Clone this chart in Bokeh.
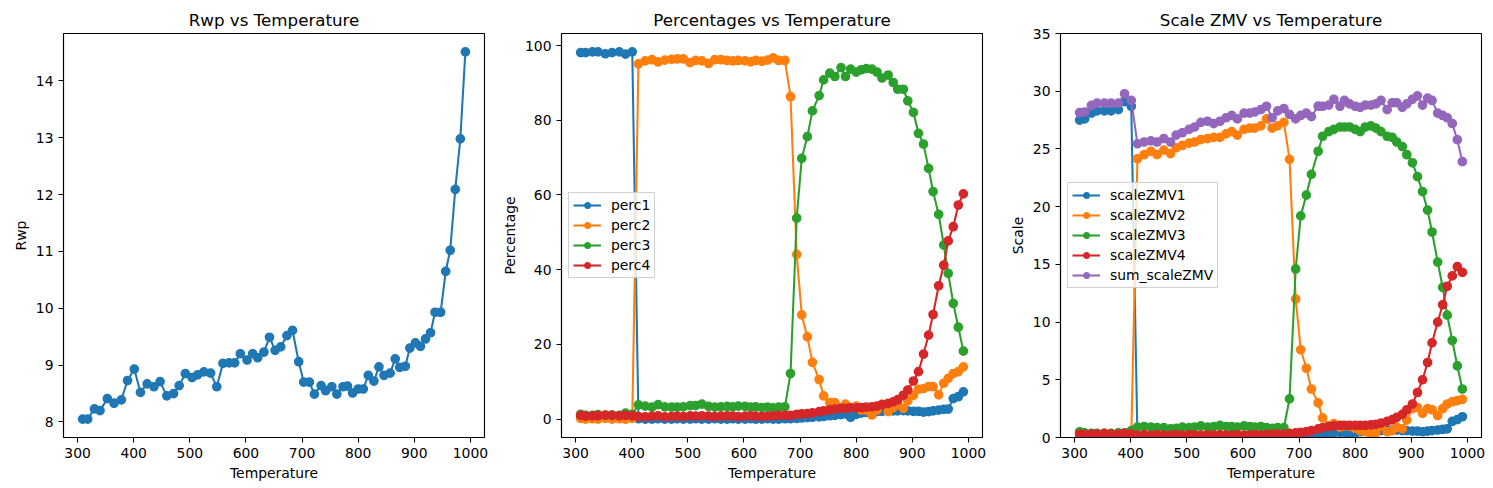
from bokeh.plotting import figure
from bokeh.layouts import row
from bokeh.models import Range1d, FixedTicker
from bokeh.embed import file_html
from bokeh.resources import INLINE

# ---------------- data ----------------
temperature = [309, 318, 330, 340, 353, 365, 378, 389, 401, 412, 424, 436, 447, 459, 471, 481, 492, 504, 514,
               525, 537, 548, 559, 570, 580, 590, 602, 612, 621, 632, 642, 652, 662, 673, 683, 694, 703, 713, 722,
               734, 742, 753, 762, 773, 781, 790, 800, 809, 818, 828, 837, 846, 857, 866, 874, 884, 892, 902, 911,
               920, 929, 937, 947, 956, 964, 973, 982, 991]

rwp = [8.05, 8.05, 8.23, 8.20, 8.41, 8.33, 8.39, 8.73, 8.93, 8.52, 8.67, 8.62, 8.71, 8.46, 8.50, 8.64, 8.85,
       8.78, 8.83, 8.88, 8.86, 8.62, 9.03, 9.04, 9.04, 9.20, 9.09, 9.20, 9.13, 9.23, 9.49, 9.26, 9.32, 9.52,
       9.61, 9.06, 8.70, 8.70, 8.49, 8.64, 8.55, 8.62, 8.49, 8.62, 8.63, 8.51, 8.58, 8.58, 8.82, 8.72, 8.97,
       8.82, 8.86, 9.11, 8.96, 8.98, 9.30, 9.39, 9.33, 9.46, 9.57, 9.93, 9.93, 10.65, 11.02, 12.09, 12.98, 14.51]

perc1 = [98.1, 98.1, 98.3, 98.3, 97.8, 98.1, 98.3, 97.7, 98.3,
         0.1, 0.0, 0.0, 0.1, 0.0, 0.0, 0.1, 0.0, 0.0, 0.1, 0.0, 0.0, 0.1, 0.0, 0.0, 0.1, 0.0, 0.0, 0.1, 0.0,
         0.0, 0.1, 0.0, 0.0, 0.1,
         0.1, 0.2, 0.3, 0.4, 0.5, 0.6, 0.7, 0.9, 1.0, 1.2, 1.4, 0.5, 1.3, 1.6, 1.8, 1.9, 2.0, 2.1, 2.2, 2.2,
         2.2, 2.3, 2.2, 2.1, 2.1, 1.9, 2.0, 2.2, 2.4, 2.6, 2.7, 5.5, 6.0, 7.3]
perc2 = [0.2, 0.0, 0.1, 0.0, 0.2, 0.0, 0.1, 0.0, 0.2,
         95.1, 95.9, 96.2, 95.6, 96.1, 96.3, 96.4, 96.4, 95.4, 96.0, 95.9, 95.2, 96.2, 96.2, 96.0, 95.9, 96.0,
         95.9, 95.6, 96.0, 95.8, 96.1, 96.7, 96.0, 96.0,
         86.3, 44.1, 27.9, 22.0, 15.2, 10.6, 6.2, 4.4, 4.4, 3.1, 4.0, 3.1, 3.5, 2.4, 2.4, 1.1, 2.4, 4.0, 2.0,
         3.1, 4.0, 2.9, 4.9, 6.4, 8.0, 8.2, 8.7, 8.7, 6.5, 9.6, 10.9, 12.2, 12.7, 14.0]
perc3 = [1.3, 1.0, 1.0, 1.2, 1.0, 1.1, 1.0, 1.6, 1.3,
         3.8, 3.5, 3.2, 3.9, 3.3, 3.2, 3.2, 3.3, 3.6, 3.6, 4.0, 3.4, 3.2, 3.3, 3.4, 3.3, 3.5, 3.4, 3.2, 3.3,
         3.1, 3.2, 3.0, 3.2, 3.3,
         12.2, 53.8, 69.8, 75.6, 82.5, 86.6, 90.8, 92.6, 91.7, 94.1, 91.7, 93.7, 92.9, 93.5, 93.8, 93.7, 92.9,
         91.3, 92.1, 90.1, 88.3, 88.3, 85.2, 82.1, 76.5, 73.6, 67.1, 60.9, 54.8, 46.6, 39.0, 31.0, 24.6, 18.2]
perc4 = [1.0, 0.8, 0.9, 0.9, 1.1, 1.0, 0.9, 1.0, 0.9,
         0.7, 0.6, 0.8, 0.9, 0.6, 0.7, 0.8, 0.7, 0.9, 0.8, 0.9, 0.8, 0.7, 0.8, 0.9, 0.8, 0.7, 0.8, 0.9, 0.8,
         0.7, 0.8, 0.9, 1.0, 1.0,
         1.0, 1.3, 1.4, 1.5, 1.7, 2.0, 2.2, 2.5, 2.7, 2.9, 2.9, 3.0, 3.0, 3.1, 3.2, 3.3, 3.5, 3.8, 4.2, 4.6,
         5.2, 6.4, 7.8, 10.2, 12.7, 17.4, 22.5, 28.0, 35.7, 41.2, 47.7, 51.5, 57.3, 60.3]

scale1 = [27.5, 27.6, 28.1, 28.3, 28.3, 28.3, 28.4, 29.1, 28.7,
          0.0, 0.0, 0.0, 0.0, 0.0, 0.0, 0.0, 0.0, 0.0, 0.0, 0.0, 0.0, 0.0, 0.0, 0.0, 0.0, 0.0, 0.0, 0.0, 0.0,
          0.0, 0.0, 0.0, 0.0, 0.0, 0.0,
          0.05, 0.1, 0.15, 0.2, 0.25, 0.3, 0.35, 0.4, 0.45, 0.45, 0.2, 0.4, 0.5, 0.55, 0.55, 0.6, 0.6, 0.6,
          0.65, 0.65, 0.6, 0.6, 0.55, 0.55, 0.5, 0.55, 0.6, 0.65, 0.7, 0.75, 1.4, 1.55, 1.8]
scale2 = [0.1, 0.0, 0.1, 0.0, 0.1, 0.0, 0.1, 0.0, 0.1,
          24.15, 24.5, 24.8, 24.5, 24.9, 24.6, 25.1, 25.3, 25.5, 25.6, 25.8, 25.9, 26.0, 26.0, 26.3, 26.5, 26.2,
          26.7, 26.8, 26.8, 27.0, 27.6, 26.8, 27.0, 27.3,
          24.1, 12.0, 7.6, 6.0, 4.2, 3.0, 1.7, 1.0, 1.2, 0.9, 1.0, 1.0, 0.8, 0.6, 0.5, 0.3, 0.4, 1.0, 0.5, 0.6,
          0.9, 0.75, 1.5, 2.5, 2.6, 2.1, 2.5, 2.4, 1.9, 2.5, 2.9, 3.1, 3.2, 3.3]
scale3 = [0.5, 0.4, 0.35, 0.35, 0.35, 0.35, 0.4, 0.4, 0.6,
          0.9, 0.95, 0.9, 0.85, 0.85, 0.75, 0.8, 0.9, 0.85, 0.9, 1.0, 0.9, 0.95, 1.05, 0.95, 0.95, 0.9, 1.0,
          0.95, 0.9, 0.95, 0.85, 0.8, 0.85, 0.85,
          3.35, 14.6, 19.2, 21.0, 22.8, 24.8, 26.1, 26.5, 26.7, 26.9, 26.9, 26.9, 26.7, 26.5, 26.9, 27.0, 26.8,
          26.5, 26.1, 26.0, 25.6, 25.2, 24.5, 23.8, 22.6, 21.3, 19.7, 17.8, 15.2, 13.0, 10.6, 8.4, 6.2, 4.2]
scale4 = [0.3, 0.25, 0.3, 0.3, 0.35, 0.3, 0.3, 0.35, 0.3,
          0.2, 0.25, 0.2, 0.25, 0.2, 0.2, 0.25, 0.2, 0.25, 0.2, 0.2, 0.25, 0.2, 0.25, 0.2, 0.2, 0.25, 0.2, 0.2,
          0.25, 0.2, 0.25, 0.3, 0.3, 0.3,
          0.35, 0.4, 0.45, 0.5, 0.6, 0.75, 0.85, 0.95, 1.0, 1.05, 1.05, 1.05, 1.05, 1.05, 1.05, 1.1, 1.15,
          1.25, 1.4, 1.55, 1.75, 2.0, 2.4, 2.9, 3.9, 5.0, 6.5, 8.2, 10.0, 11.5, 13.1, 14.0, 14.8, 14.3]
sum_scale = [28.14, 28.2, 28.77, 28.97, 28.97, 28.97, 28.97, 29.78, 29.2,
             25.45, 25.6, 25.7, 25.6, 25.9, 25.6, 26.2, 26.4, 26.7, 26.9, 27.3, 27.4, 27.2, 27.4, 27.7, 27.9,
             27.6, 28.1, 28.1, 28.2, 28.4, 28.7, 27.7, 28.3, 28.5, 28.0, 27.6, 27.9, 28.1, 27.8,
             28.7, 28.7, 28.8, 29.3, 28.7, 29.2, 28.9, 28.7, 28.6, 28.8, 28.8, 28.9, 29.2, 28.4, 29.0, 29.0,
             28.6, 28.9, 29.3, 29.6, 28.8, 29.4, 29.2, 28.1, 27.9, 27.7, 27.2, 25.8, 23.9]

x_ticks = [300, 400, 500, 600, 700, 800, 900, 1000]
rwp_ticks = [8, 9, 10, 11, 12, 13, 14]
perc_ticks = [0, 20, 40, 60, 80, 100]
scale_ticks = [0, 5, 10, 15, 20, 25, 30, 35]

COLORS = ["#1f77b4", "#ff7f0e", "#2ca02c", "#d62728", "#9467bd"]
FONT = "DejaVu Sans"
FS = "13.9px"


def padded(values):
    lo, hi = min(values), max(values)
    m = 0.05 * (hi - lo)
    return Range1d(lo - m, hi + m)


def make_fig(title, width, left, right, xlabel, ylabel, y_range, yticks):
    p = figure(width=width, height=488, output_backend="svg", toolbar_location=None,
               min_border_left=left, min_border_right=right, min_border_top=33, min_border_bottom=51,
               x_range=padded(temperature), y_range=y_range, title=title)
    p.title.text_font = FONT
    p.title.text_font_size = "16.7px"
    p.title.text_font_style = "normal"
    p.title.text_color = "black"
    p.title.align = "center"
    p.title.standoff = 8
    p.grid.visible = False
    p.outline_line_color = "black"
    p.outline_line_alpha = 1.0
    p.outline_line_width = 1.1
    p.background_fill_color = "white"
    p.border_fill_color = "white"
    for ax in (p.xaxis[0], p.yaxis[0]):
        ax.axis_line_color = "black"
        ax.axis_line_width = 1.1
        ax.major_tick_line_color = "black"
        ax.major_tick_line_width = 1.1
        ax.major_tick_in = 0
        ax.major_tick_out = 5
        ax.minor_tick_in = 0
        ax.minor_tick_out = 0
        ax.major_label_text_font = FONT
        ax.major_label_text_font_size = FS
        ax.major_label_text_color = "black"
        ax.axis_label_text_font = FONT
        ax.axis_label_text_font_size = FS
        ax.axis_label_text_font_style = "normal"
        ax.axis_label_text_color = "black"
        ax.major_label_standoff = 5
    p.xaxis[0].axis_label = xlabel
    p.yaxis[0].axis_label = ylabel
    p.xaxis[0].axis_label_standoff = 4
    p.yaxis[0].axis_label_standoff = 4
    p.xaxis[0].ticker = FixedTicker(ticks=x_ticks)
    p.yaxis[0].ticker = FixedTicker(ticks=yticks)
    return p


def series(p, y, color, label=None):
    kw = {"legend_label": label} if label else {}
    p.line(temperature, y, line_color=color, line_width=2.08, **kw)
    p.scatter(temperature, y, size=8.3, fill_color=color, line_color=color, line_width=1.4, **kw)


def style_legend(p):
    lg = p.legend[0]
    lg.location = "left"
    lg.margin = 7
    lg.padding = 4
    lg.spacing = 4
    lg.label_text_font = FONT
    lg.label_text_font_size = FS
    lg.label_text_color = "black"
    lg.label_standoff = 10
    lg.glyph_width = 28
    lg.glyph_height = 14
    lg.label_height = 14
    lg.border_line_color = "#cccccc"
    lg.border_line_alpha = 0.9
    lg.background_fill_color = "white"
    lg.background_fill_alpha = 0.8


p1 = make_fig("Rwp vs Temperature", 489, 63, 5, "Temperature", "Rwp", padded(rwp), rwp_ticks)
series(p1, rwp, COLORS[0])

p2 = make_fig("Percentages vs Temperature", 498, 72, 5, "Temperature", "Percentage",
              padded(perc1 + perc2 + perc3 + perc4), perc_ticks)
for vals, c, name in zip([perc1, perc2, perc3, perc4], COLORS, ["perc1", "perc2", "perc3", "perc4"]):
    series(p2, vals, c, name)
style_legend(p2)

p3 = make_fig("Scale ZMV vs Temperature", 501, 73, 7, "Temperature", "Scale",
              Range1d(0, 35), scale_ticks)
for vals, c, name in zip([scale1, scale2, scale3, scale4, sum_scale], COLORS,
                         ["scaleZMV1", "scaleZMV2", "scaleZMV3", "scaleZMV4", "sum_scaleZMV"]):
    series(p3, vals, c, name)
style_legend(p3)

layout = row(p1, p2, p3)
open("out.html", "w").write(file_html(layout, INLINE))
